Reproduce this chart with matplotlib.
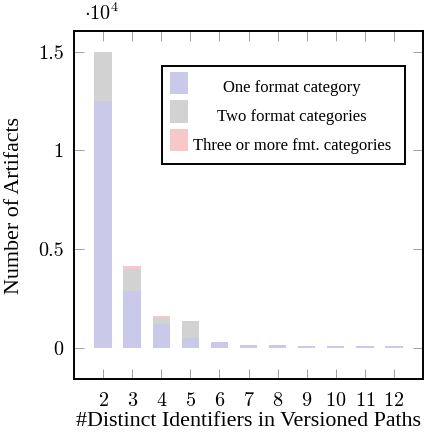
import matplotlib

matplotlib.use("Agg")
import matplotlib.pyplot as plt
from matplotlib.patches import Rectangle
from matplotlib.ticker import FuncFormatter

plt.rcParams["font.family"] = "serif"
plt.rcParams["font.serif"] = ["cmr10", "DejaVu Serif"]
plt.rcParams["mathtext.fontset"] = "cm"
plt.rcParams["axes.formatter.use_mathtext"] = True

TEXT_FONT = ["Liberation Serif", "DejaVu Serif"]

# number of distinct identifiers and artifact counts per format-category group
identifiers = [2, 3, 4, 5, 6, 7, 8, 9, 10, 11, 12]
one_format = [12500, 2850, 1200, 500, 270, 150, 150, 80, 80, 80, 80]
two_formats = [2500, 1150, 300, 850, 0, 0, 0, 0, 0, 0, 0]
three_plus = [0, 150, 80, 20, 0, 0, 0, 0, 0, 0, 0]

labels = ["One format category", "Two format categories", "Three or more fmt. categories"]
colors = ["#cbc9e9", "#d1d2d1", "#f7c8c8"]

W, H = 425, 437
AX_L, AX_R, AX_T, AX_B = 74, 423, 31, 379
fig = plt.figure(figsize=(W / 100, H / 100), dpi=100)
ax = fig.add_axes([AX_L / W, 1 - AX_B / H, (AX_R - AX_L) / W, (AX_B - AX_T) / H])

bottom2 = one_format
bottom3 = [a + b for a, b in zip(one_format, two_formats)]
ax.bar(identifiers, one_format, width=0.6, color=colors[0], linewidth=0)
ax.bar(identifiers, two_formats, width=0.6, bottom=bottom2, color=colors[1], linewidth=0)
ax.bar(identifiers, three_plus, width=0.6, bottom=bottom3, color=colors[2], linewidth=0)

ax.set_xlim(1, 13)
ax.set_ylim(-1590, 16060)
ax.set_xticks(identifiers)
ax.set_yticks([0, 5000, 10000, 15000])
ax.yaxis.set_major_formatter(FuncFormatter(lambda v, _p: f"{v / 1e4:g}"))
ax.tick_params(direction="in", length=7.2, width=0.7, color="#a0a0a0",
               top=True, right=True, labelsize=14.5)
ax.tick_params(axis="x", pad=9)
ax.tick_params(axis="y", pad=7.5)
for s in ax.spines.values():
    s.set_linewidth(1.4)


def to_ax(px, py):
    return (px - AX_L) / (AX_R - AX_L), (AX_B - py) / (AX_B - AX_T)


ax.set_xlabel("#Distinct Identifiers in Versioned Paths", fontsize=15.8,
              family=TEXT_FONT, va="baseline")
ax.xaxis.set_label_coords(*to_ax(248, 426))
ax.set_ylabel("Number of Artifacts", fontsize=15.8, family=TEXT_FONT,
              va="center", ha="center")
ax.yaxis.set_label_coords(*to_ax(15, 206))
fig.text(84 / W, 1 - 20 / H, r"$\cdot 10^{4}$", fontsize=14.5, va="baseline")

# legend drawn as in the pgfplots original: boxed, entries centred
x0, y0 = to_ax(162, 164)
x1, y1 = to_ax(405, 66)
ax.add_patch(Rectangle((x0, y0), x1 - x0, y1 - y0, transform=ax.transAxes,
                       facecolor="white", edgecolor="black", linewidth=1.4, zorder=5))
for i, (lab, col) in enumerate(zip(labels, colors)):
    cy = 83 + i * 28.5
    px, py = to_ax(170, cy + 11)
    pw, ph = to_ax(188, cy - 11)
    ax.add_patch(Rectangle((px, py), pw - px, ph - py, transform=ax.transAxes,
                           facecolor=col, linewidth=0, zorder=6))
    tx, ty = to_ax(292, cy + 9.5)
    ax.text(tx, ty, lab, transform=ax.transAxes, ha="center", va="baseline",
            fontsize=12, family=TEXT_FONT, zorder=6)

fig.savefig("out.png", dpi=100)
